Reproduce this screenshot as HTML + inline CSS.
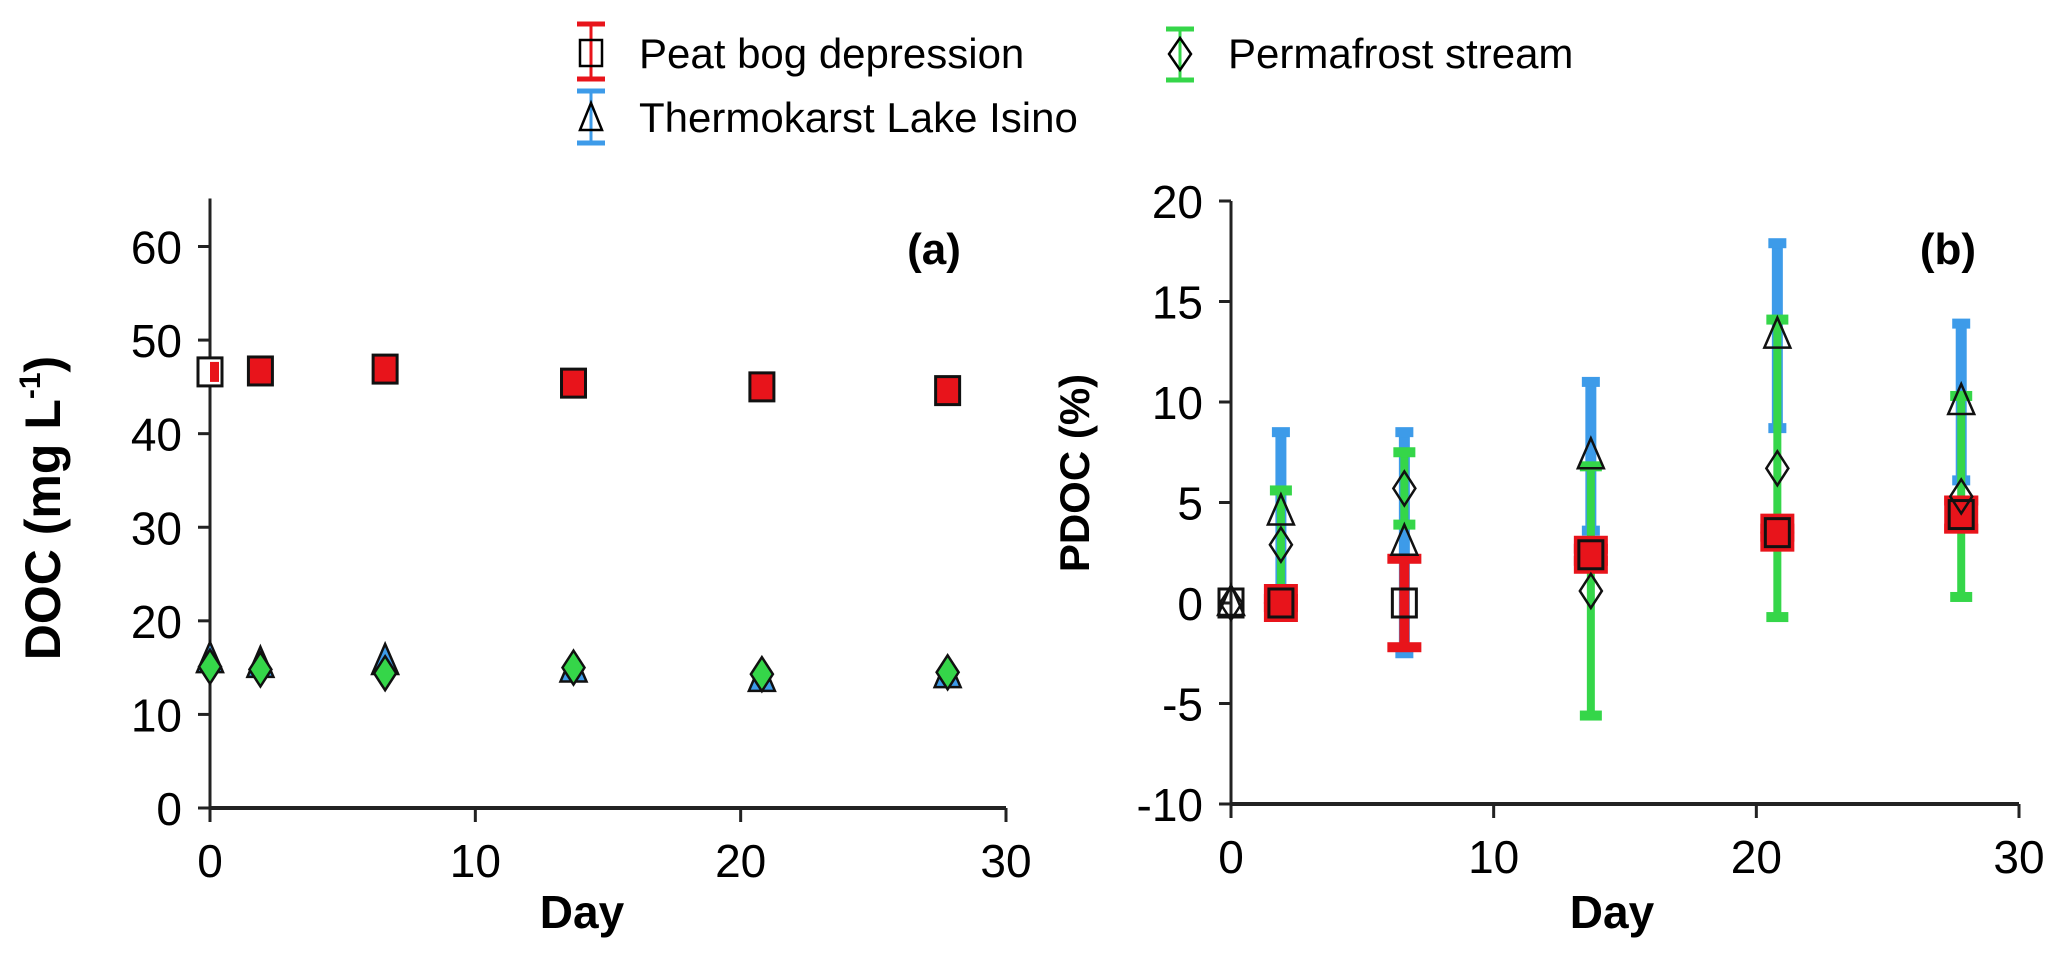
<!DOCTYPE html>
<html><head><meta charset="utf-8"><style>
html,body{margin:0;padding:0;background:#fff;}
svg{display:block;font-family:"Liberation Sans Narrow","Liberation Sans",sans-serif;}
</style></head><body>
<svg id="chart" width="2067" height="972" viewBox="0 0 2067 972" xmlns="http://www.w3.org/2000/svg">
<g id="legend">
 <g>
  <line x1="591" y1="24" x2="591" y2="79" stroke="#e8141b" stroke-width="3"/>
  <line x1="577" y1="24" x2="605" y2="24" stroke="#e8141b" stroke-width="5"/>
  <line x1="577" y1="79" x2="605" y2="79" stroke="#e8141b" stroke-width="5"/>
  <rect x="580" y="40" width="22" height="26" fill="none" stroke="#000" stroke-width="2.5"/>
  <text x="639" y="68" font-size="42">Peat bog depression</text>
 </g>
 <g>
  <line x1="591" y1="91" x2="591" y2="143" stroke="#3d9be9" stroke-width="3"/>
  <line x1="577" y1="91" x2="605" y2="91" stroke="#3d9be9" stroke-width="5"/>
  <line x1="577" y1="143" x2="605" y2="143" stroke="#3d9be9" stroke-width="5"/>
  <polygon points="591,103 602,130 580,130" fill="none" stroke="#000" stroke-width="2.5"/>
  <text x="639" y="132" font-size="42">Thermokarst Lake Isino</text>
 </g>
 <g>
  <line x1="1180" y1="29" x2="1180" y2="80" stroke="#35d649" stroke-width="3"/>
  <line x1="1166" y1="29" x2="1194" y2="29" stroke="#35d649" stroke-width="5"/>
  <line x1="1166" y1="80" x2="1194" y2="80" stroke="#35d649" stroke-width="5"/>
  <polygon points="1180,38 1191,54 1180,70 1169,54" fill="none" stroke="#000" stroke-width="2.5"/>
  <text x="1228" y="68" font-size="42">Permafrost stream</text>
 </g>
</g>
<g id="pa"></g>
<g id="pb"></g>
</svg>
<script>
const days = [0, 1.9, 6.6, 13.7, 20.8, 27.8];
const xTicks = [0, 10, 20, 30];
const aYTicks = [0, 10, 20, 30, 40, 50, 60];
const aPeat = [46.6, 46.7, 46.9, 45.4, 45.0, 44.6];
const aPeatErr = [0, 0.3, 1.0, 0.3, 0.3, 0.3];
const aThermo = [15.8, 15.3, 15.6, 14.8, 13.8, 14.2];
const aPerma = [15.1, 14.8, 14.4, 15.0, 14.3, 14.5];
const bYTicks = [-10, -5, 0, 5, 10, 15, 20];
const bPeat = [0, 0, 0, 2.4, 3.5, 4.4];
const bPeatErr = [0, 0.2, 2.2, 0.3, 0.2, 0.7];
const bThermo = [0, 4.5, 3.0, 7.3, 13.3, 10.0];
const bThermoErr = [0, 4.0, 5.5, 3.7, 4.6, 3.9];
const bPerma = [0, 2.9, 5.7, 0.6, 6.7, 5.3];
const bPermaErr = [0, 2.7, 1.8, 6.2, 7.4, 5.0];

const NS = "http://www.w3.org/2000/svg";
const RED = "#e8141b", BLUE = "#3d9be9", GREEN = "#35d649";
function mk(parent, tag, attrs, text) {
  const e = document.createElementNS(NS, tag);
  for (const k in attrs) e.setAttribute(k, attrs[k]);
  if (text !== undefined) e.textContent = text;
  parent.appendChild(e);
  return e;
}
function lin(d0, d1, r0, r1) { return v => r0 + (v - d0) * (r1 - r0) / (d1 - d0); }

function axes(g, x, y, yTicks, xMin, xMax, yMin, yMax, topExt, yTitleX, yTitleY, yTitleSize, dayX) {
  const ax = mk(g, "line", {x1: x(xMin), y1: y(yMin), x2: x(xMax), y2: y(yMin), stroke: "#222", "stroke-width": 4});
  
  
  const ay = mk(g, "line", {x1: x(xMin), y1: y(yMin) + 2, x2: x(xMin), y2: y(yMax) - topExt, stroke: "#222", "stroke-width": 3});
  
  
  xTicks.forEach(t => {
    const tk = mk(g, "line", {x1: x(t), y1: y(yMin), x2: x(t), y2: y(yMin) + 14, stroke: "#222", "stroke-width": 3});
    
    
    const tl = mk(g, "text", {x: x(t), y: y(yMin) + 69, "font-size": 46, "text-anchor": "middle"}, String(t));
    
    
  });
  yTicks.forEach(t => {
    const tk = mk(g, "line", {x1: x(xMin) - 12, y1: y(t), x2: x(xMin), y2: y(t), stroke: "#222", "stroke-width": 3});
    
    
    const tl = mk(g, "text", {x: x(xMin) - 28, y: y(t) + 17, "font-size": 46, "text-anchor": "end"}, String(t));
    
    
  });
  const xt = mk(g, "text", {x: dayX, y: 928, "font-size": 46, "font-weight": "bold", "text-anchor": "middle", "font-family": "Liberation Sans, sans-serif"}, "Day");
  
  
  const yt = mk(g, "text", {x: 0, y: 0, "font-size": yTitleSize, "font-weight": "bold", "text-anchor": "middle", "font-family": "Liberation Sans, sans-serif", transform: `translate(${yTitleX},${yTitleY}) rotate(-90)`});
  
  
  return yt;
}

function errBar(g, cx, y, v, e, color, w, capW, name) {
  if (!e) return;
  const grp = mk(g, "g", {});
  
  
  mk(grp, "line", {x1: cx, y1: y(v - e), x2: cx, y2: y(v + e), stroke: color, "stroke-width": w});
  mk(grp, "rect", {x: cx - capW / 2, y: y(v + e) - 5, width: capW, height: 10, fill: color});
  mk(grp, "rect", {x: cx - capW / 2, y: y(v - e) - 5, width: capW, height: 10, fill: color});
}
function square(g, cx, cy, fill, name) {
  const r = mk(g, "rect", {x: cx - 12, y: cy - 14, width: 24, height: 28, fill: fill, stroke: "#111", "stroke-width": 3});
  
  
}
function tri(g, cx, cy, fill, name) {
  const p = mk(g, "polygon", {points: `${cx},${cy - 18} ${cx + 13},${cy + 12} ${cx - 13},${cy + 12}`, fill: fill, stroke: "#111", "stroke-width": 2.5});
  
  
}
function dia(g, cx, cy, fill, name) {
  const p = mk(g, "polygon", {points: `${cx},${cy - 17} ${cx + 11},${cy} ${cx},${cy + 17} ${cx - 11},${cy}`, fill: fill, stroke: "#111", "stroke-width": 2.5});
  
  
}

// Panel A
(function () {
  const g = document.getElementById("pa");
  const x = lin(0, 30, 210, 1006);
  const y = lin(0, 60, 808, 246.5);
  const yt = axes(g, x, y, aYTicks, 0, 30, 0, 60, 48, 60, 508, 50, 582);
  yt.textContent = "DOC (mg L";
  mk(yt, "tspan", {dy: -20, "font-size": 30}, "-1");
  mk(yt, "tspan", {dy: 20}, ")");
  const lab = mk(g, "text", {x: 934, y: 264, "font-size": 44, "font-weight": "bold", "text-anchor": "middle", "font-family": "Liberation Sans, sans-serif"}, "(a)");
  
  
  days.forEach((d, i) => {
    errBar(g, x(d), y, aPeat[i], aPeatErr[i], RED, 6, 20, "error-bar-peat");
    square(g, x(d), y(aPeat[i]), i === 0 ? "#fff" : RED, "point-peat");
    if (i === 0) mk(g, "rect", {x: x(d), y: y(aPeat[i]) - 10, width: 9, height: 20, fill: RED});
    tri(g, x(d), y(aThermo[i]), BLUE, "point-thermokarst");
    dia(g, x(d), y(aPerma[i]), GREEN, "point-permafrost");
  });
})();

// Panel B
(function () {
  const g = document.getElementById("pb");
  const x = lin(0, 30, 1231, 2019);
  const y = lin(-10, 20, 804, 201);
  const yt = axes(g, x, y, bYTicks, 0, 30, -10, 20, 0, 1089, 473, 42, 1612);
  yt.textContent = "PDOC (%)";
  const lab = mk(g, "text", {x: 1948, y: 264, "font-size": 44, "font-weight": "bold", "text-anchor": "middle", "font-family": "Liberation Sans, sans-serif"}, "(b)");
  
  
  days.forEach((d, i) => {
    errBar(g, x(d), y, bThermo[i], bThermoErr[i], BLUE, 11, 18, "error-bar-thermokarst");
    errBar(g, x(d), y, bPerma[i], bPermaErr[i], GREEN, 8, 22, "error-bar-permafrost");
  });
  days.forEach((d, i) => {
    errBar(g, x(d), y, bPeat[i], bPeatErr[i], RED, 10, 34, "error-bar-peat");
  });
  days.forEach((d, i) => {
    const filled = [false, true, false, true, true, true][i];
    if (filled) mk(g, "rect", {x: x(d) - 17, y: y(bPeat[i]) - 19, width: 34, height: 38, fill: RED});
    square(g, x(d), y(bPeat[i]), "none", "point-peat");
    tri(g, x(d), y(bThermo[i]), "none", "point-thermokarst");
    dia(g, x(d), y(bPerma[i]), "none", "point-permafrost");
  });
})();
</script>
</body></html>
